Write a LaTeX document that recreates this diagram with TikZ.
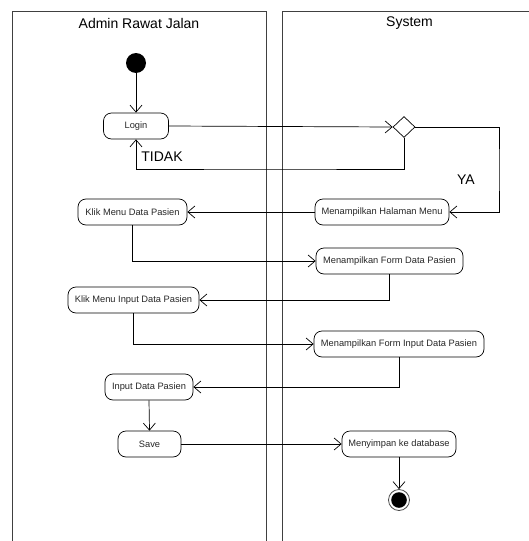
\documentclass[tikz,border=0pt]{standalone}
\usepackage{fontspec}
\setmainfont{Liberation Sans}
\usetikzlibrary{arrows.meta,shapes.geometric}
\begin{document}
\begin{tikzpicture}[x=1pt,y=-1pt,
  lane/.style={draw=black!75,line width=0.8pt},
  act/.style={draw,rounded corners=8pt,minimum height=26pt,inner sep=0pt,font=\fontsize{9.3}{10}\selectfont,text=black!85,line width=0.7pt},
  arr/.style={-{Straight Barb[length=7pt,width=12pt]},line width=0.7pt},
  conn/.style={line width=0.7pt},
  lbl/.style={font=\fontsize{14}{16}\selectfont},
  ttl/.style={font=\fontsize{14}{16}\selectfont}]
\useasboundingbox (0,0) rectangle (529,541);
% swimlanes
\draw[lane] (12,545) -- (12,11) -- (266,11) -- (266,545);
\draw[lane] (282,545) -- (282,11) -- (535,11);
\node[ttl] (t1) at (139,23) {Admin Rawat Jalan};
\node[ttl] (t2) at (409.5,23) {System};
% nodes
\node[circle,fill=black,minimum size=20pt,inner sep=0pt] (start) at (136,63) {};
\node[act,minimum width=65pt] (login) at (136,126) {Login};
\node[diamond,draw,minimum width=22pt,minimum height=21pt,inner sep=0pt,line width=0.7pt] (dec) at (404,127) {};
\node[act,minimum width=134pt] (halaman) at (382,212) {Menampilkan Halaman Menu};
\node[act,minimum width=109pt] (klikdata) at (132.5,212) {Klik Menu Data Pasien};
\node[act,minimum width=147pt] (formdata) at (389.5,261) {Menampilkan Form Data Pasien};
\node[act,minimum width=131pt] (klikinput) at (133.5,300) {Klik Menu Input Data Pasien};
\node[act,minimum width=170pt] (forminput) at (399,344) {Menampilkan Form Input Data Pasien};
\node[act,minimum width=88pt] (input) at (149,387) {Input Data Pasien};
\node[act,minimum width=63pt] (save) at (149.5,444) {Save};
\node[act,minimum width=114pt] (simpan) at (399,444) {Menyimpan ke database};
\node[circle,draw=black!70,line width=0.8pt,minimum size=21pt,inner sep=0pt] (end) at (399,500) {};
\fill (end.center) circle (7.8pt);
% coordinates
\coordinate (tidakc) at (270,169);
\coordinate (yac) at (499,170);
% connectors
\draw[arr] (start) -- (login);
\draw[arr] (login.east) -- (dec.west);
\draw[arr] (dec.south) |- (tidakc) -| (login.south);
\draw[arr] (dec.east) -| (yac) |- (halaman.east);
\draw[arr] (halaman.west) -- (klikdata.east);
\draw[arr] (klikdata.south) |- (formdata.west);
\draw[arr] (formdata.south) |- (klikinput.east);
\draw[arr] (klikinput.south) |- (forminput.west);
\draw[arr] (forminput.south) |- (input.east);
\draw[arr] (input.south) -- (save.north);
\draw[arr] (save.east) -- (simpan.west);
\draw[arr] (simpan.south) -- (end.north);
% labels
\node[lbl] (tidak) at (162,157) {TIDAK};
\node[lbl] (ya) at (466,180) {YA};
\end{tikzpicture}
\end{document}
